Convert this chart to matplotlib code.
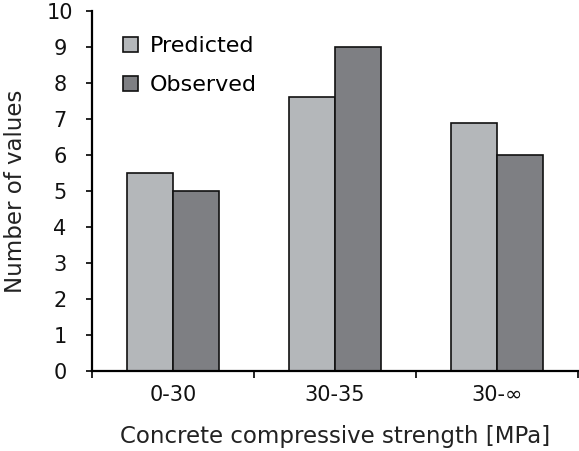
import matplotlib
matplotlib.use("Agg")
import matplotlib.pyplot as plt
import numpy as np

categories = ["0-30", "30-35", "30-\u221e"]
predicted = [5.5, 7.6, 6.9]
observed = [5.0, 9.0, 6.0]
y_ticks = list(range(0, 11))

plt.rcParams["font.family"] = ["DejaVu Sans"]

fig = plt.figure(figsize=(5.79, 4.51), dpi=100)
ax = fig.add_axes([0.159, 0.177, 0.839, 0.799])

x = np.arange(len(categories))
w = 0.284
ax.bar(x - w / 2, predicted, w, color="#b4b7ba", edgecolor="#111111", linewidth=1.2, label="Predicted")
ax.bar(x + w / 2, observed, w, color="#7e7f83", edgecolor="#111111", linewidth=1.2, label="Observed")

ax.set_xlim(-0.5, len(categories) - 0.5)
ax.set_ylim(0, 10)
ax.set_yticks(y_ticks)
ax.tick_params(axis="y", direction="out", length=4, width=1.2, labelsize=15, pad=19,
               labelcolor="#111111")
for lbl in ax.get_yticklabels():
    lbl.set_horizontalalignment("center")

# boundary ticks between categories, labels at the centres
ax.set_xticks(np.arange(len(categories) + 1) - 0.5)
ax.set_xticklabels([])
ax.set_xticks(x, minor=True)
ax.set_xticklabels(categories, minor=True, fontsize=15, color="#111111")
ax.tick_params(axis="x", which="major", direction="out", length=5, width=1.2)
ax.tick_params(axis="x", which="minor", length=0, pad=10)

for side in ("top", "right"):
    ax.spines[side].set_visible(False)
for side in ("left", "bottom"):
    ax.spines[side].set_linewidth(1.6)

ax.set_ylabel("Number of values", fontsize=16.5, color="#222222", labelpad=14)
ax.set_xlabel("Concrete compressive strength [MPa]", fontsize=16.5, color="#222222", labelpad=14)

ax.legend(loc="upper left", bbox_to_anchor=(0.022, 0.985), frameon=False, fontsize=16,
          handlelength=0.7, handleheight=0.7, handletextpad=0.5, labelspacing=0.85)

fig.savefig("out.png", dpi=100)
